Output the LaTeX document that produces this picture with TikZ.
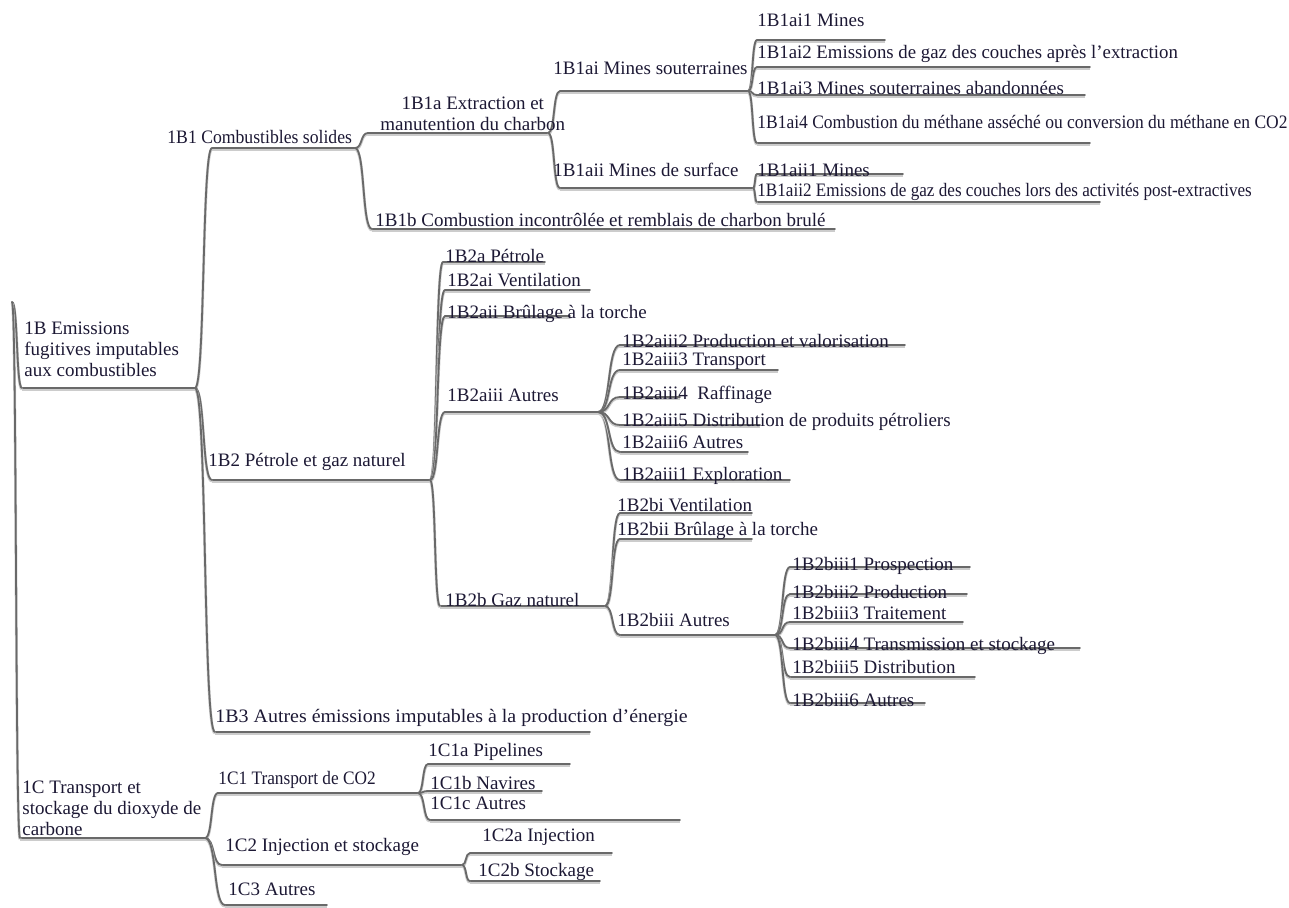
\documentclass[tikz,border=0pt]{standalone}
\usepackage{fontspec}
\setmainfont{Liberation Serif}
\usetikzlibrary{calc,backgrounds}
\definecolor{ink}{RGB}{28,24,52}
\definecolor{lgray}{RGB}{105,105,105}
\tikzset{
	txt/.style={anchor=west,inner sep=0pt,text=ink,font=\rmfamily\fontsize{9.5}{10.5}\selectfont},
	cond/.style={font=\rmfamily\fontsize{9.5}{10.5}\selectfont\addfontfeatures{FakeStretch=#1}},
	uline/.style={draw=lgray,line width=0.9pt,line cap=round,
		preaction={draw=black!20,line width=1.4pt,transform canvas={yshift=-0.6pt}}},
	branch/.style={uline,to path={.. controls ($(\tikztostart)!0.6!(\tikztostart -| \tikztotarget)$) and ($(\tikztotarget)!0.6!(\tikztotarget -| \tikztostart)$) .. (\tikztotarget)}}
}
\begin{document}
\begin{tikzpicture}[x=0.5pt,y=-0.5pt]
	\useasboundingbox (0,0) rectangle (1289,908);
	\coordinate (root-r) at (12,302);
	
	%%%% 1B
	\node[txt,align=left] (b) at (24,349) {1B Emissions\\fugitives imputables\\aux combustibles};
	\coordinate (b-l) at (22,388); \coordinate (b-r) at (195,388);
	
	%%%% 1B1
	\node[txt,cond=0.93] (b1) at (167,137) {1B1 Combustibles solides};
	\coordinate (b1-l) at (212,148); \coordinate (b1-r) at (355,148);
	\node[txt,align=center] (b1a) at (380,114) {1B1a Extraction et\\manutention du charbon};
	\coordinate (b1a-l) at (368,133); \coordinate (b1a-r) at (548,133);
	\node[txt] (b1b) at (375,220) {1B1b Combustion incontrôlée et remblais de charbon brulé};
	\coordinate (b1b-l) at (372,229); \coordinate (b1b-r) at (835,229);
	\node[txt] (b1ai) at (553,68) {1B1ai Mines souterraines};
	\coordinate (b1ai-l) at (560,91); \coordinate (b1ai-r) at (748,91);
	\node[txt] (b1aii) at (553,170) {1B1aii Mines de surface};
	\coordinate (b1aii-l) at (560,188); \coordinate (b1aii-r) at (753,188);
	\node[txt] (b1ai1) at (757,20) {1B1ai1 Mines};
	\coordinate (b1ai1-l) at (757,40); \coordinate (b1ai1-r) at (885,40);
	\node[txt,cond=0.99] (b1ai2) at (757,54) {1B1ai2 Emissions de gaz des couches après l'extraction};
	\coordinate (b1ai2-l) at (757,67); \coordinate (b1ai2-r) at (1090,67);
	\node[txt] (b1ai3) at (757,88) {1B1ai3 Mines souterraines abandonnées};
	\coordinate (b1ai3-l) at (757,95); \coordinate (b1ai3-r) at (1085,95);
	\node[txt,cond=0.92] (b1ai4) at (757,122) {1B1ai4 Combustion du méthane asséché ou conversion du méthane en CO2};
	\coordinate (b1ai4-l) at (757,143); \coordinate (b1ai4-r) at (1090,143);
	\node[txt] (b1aii1) at (757,170) {1B1aii1 Mines};
	\coordinate (b1aii1-l) at (757,174); \coordinate (b1aii1-r) at (903,174);
	\node[txt,cond=0.9] (b1aii2) at (757,192) {1B1aii2 Emissions de gaz des couches lors des activités post-extractives};
	\coordinate (b1aii2-l) at (757,202); \coordinate (b1aii2-r) at (1100,202);
	
	%%%% 1B2
	\node[txt] (b2) at (208,462) {1B2 Pétrole et gaz naturel};
	\coordinate (b2-l) at (212,480); \coordinate (b2-r) at (430,480);
	\node[txt] (b2a) at (445,256) {1B2a Pétrole};
	\coordinate (b2a-l) at (443,262); \coordinate (b2a-r) at (545,262);
	\node[txt] (b2ai) at (447,280) {1B2ai Ventilation};
	\coordinate (b2ai-l) at (445,290); \coordinate (b2ai-r) at (590,290);
	\node[txt] (b2aii) at (447,314) {1B2aii Brûlage à la torche};
	\coordinate (b2aii-l) at (445,316); \coordinate (b2aii-r) at (570,316);
	\node[txt] (b2aiii) at (447,395) {1B2aiii Autres};
	\coordinate (b2aiii-l) at (445,412); \coordinate (b2aiii-r) at (598,412);
	\node[txt] (b2aiii2) at (622,341) {1B2aiii2 Production et valorisation};
	\coordinate (b2aiii2-l) at (620,345); \coordinate (b2aiii2-r) at (905,345);
	\node[txt] (b2aiii3) at (622,361) {1B2aiii3 Transport};
	\coordinate (b2aiii3-l) at (620,370); \coordinate (b2aiii3-r) at (778,370);
	\node[txt] (b2aiii4) at (622,395) {1B2aiii4\ \ Raffinage};
	\coordinate (b2aiii4-l) at (620,397); \coordinate (b2aiii4-r) at (680,397);
	\node[txt] (b2aiii5) at (622,422) {1B2aiii5 Distribution de produits pétroliers};
	\coordinate (b2aiii5-l) at (620,425); \coordinate (b2aiii5-r) at (760,425);
	\node[txt] (b2aiii6) at (622,442) {1B2aiii6 Autres};
	\coordinate (b2aiii6-l) at (620,452); \coordinate (b2aiii6-r) at (748,452);
	\node[txt] (b2aiii1) at (622,476) {1B2aiii1 Exploration};
	\coordinate (b2aiii1-l) at (620,480); \coordinate (b2aiii1-r) at (790,480);
	\node[txt] (b2b) at (445,600) {1B2b Gaz naturel};
	\coordinate (b2b-l) at (440,606); \coordinate (b2b-r) at (605,606);
	\node[txt] (b2bi) at (617,505) {1B2bi Ventilation};
	\coordinate (b2bi-l) at (620,513); \coordinate (b2bi-r) at (752,513);
	\node[txt] (b2bii) at (617,531) {1B2bii Brûlage à la torche};
	\coordinate (b2bii-l) at (620,539); \coordinate (b2bii-r) at (752,539);
	\node[txt] (b2biii) at (617,620) {1B2biii Autres};
	\coordinate (b2biii-l) at (620,635); \coordinate (b2biii-r) at (775,635);
	\node[txt] (b2biii1) at (792,566) {1B2biii1 Prospection};
	\coordinate (b2biii1-l) at (790,567); \coordinate (b2biii1-r) at (970,567);
	\node[txt] (b2biii2) at (792,592) {1B2biii2 Production};
	\coordinate (b2biii2-l) at (790,594); \coordinate (b2biii2-r) at (967,594);
	\node[txt] (b2biii3) at (792,613) {1B2biii3 Traitement};
	\coordinate (b2biii3-l) at (790,622); \coordinate (b2biii3-r) at (963,622);
	\node[txt] (b2biii4) at (792,646) {1B2biii4 Transmission et stockage};
	\coordinate (b2biii4-l) at (790,648); \coordinate (b2biii4-r) at (1080,648);
	\node[txt] (b2biii5) at (792,667) {1B2biii5 Distribution};
	\coordinate (b2biii5-l) at (790,677); \coordinate (b2biii5-r) at (975,677);
	\node[txt] (b2biii6) at (792,700) {1B2biii6 Autres};
	\coordinate (b2biii6-l) at (790,703); \coordinate (b2biii6-r) at (925,703);
	
	%%%% 1B3
	\node[txt,cond=1.05] (b3) at (215,718) {1B3 Autres émissions imputables à la production d’énergie};
	\coordinate (b3-l) at (215,732); \coordinate (b3-r) at (590,732);
	
	%%%% 1C
	\node[txt,align=left] (c) at (22,808) {1C Transport et\\stockage du dioxyde de\\carbone};
	\coordinate (c-l) at (20,838); \coordinate (c-r) at (205,838);
	\node[txt,cond=0.91] (c1) at (218,780) {1C1 Transport de CO2};
	\coordinate (c1-l) at (218,793); \coordinate (c1-r) at (418,793);
	\node[txt] (c2) at (225,847) {1C2 Injection et stockage};
	\coordinate (c2-l) at (222,865); \coordinate (c2-r) at (462,865);
	\node[txt] (c3) at (228,889) {1C3 Autres};
	\coordinate (c3-l) at (225,905); \coordinate (c3-r) at (327,905);
	\node[txt] (c1a) at (428,752) {1C1a Pipelines};
	\coordinate (c1a-l) at (428,764); \coordinate (c1a-r) at (570,764);
	\node[txt] (c1b) at (430,783) {1C1b Navires};
	\coordinate (c1b-l) at (428,791); \coordinate (c1b-r) at (542,791);
	\node[txt] (c1c) at (430,803) {1C1c Autres};
	\coordinate (c1c-l) at (430,820); \coordinate (c1c-r) at (680,820);
	\node[txt] (c2a) at (482,837) {1C2a Injection};
	\coordinate (c2a-l) at (470,853); \coordinate (c2a-r) at (612,853);
	\node[txt] (c2b) at (478,872) {1C2b Stockage};
	\coordinate (c2b-l) at (470,881); \coordinate (c2b-r) at (600,881);
	
	\begin{scope}[on background layer]
	% underlines
	\foreach \n in {b,b1,b1a,b1b,b1ai,b1aii,b1ai1,b1ai2,b1ai3,b1ai4,b1aii1,b1aii2,
		b2,b2a,b2ai,b2aii,b2aiii,b2aiii1,b2aiii2,b2aiii3,b2aiii4,b2aiii5,b2aiii6,
		b2b,b2bi,b2bii,b2biii,b2biii1,b2biii2,b2biii3,b2biii4,b2biii5,b2biii6,
		b3,c,c1,c2,c3,c1a,c1b,c1c,c2a,c2b}
		\draw[uline] (\n-l) -- (\n-r);
	
	% branches
	\foreach \p/\c in {root/b,root/c,b/b1,b/b2,b/b3,b1/b1a,b1/b1b,b1a/b1ai,b1a/b1aii,
		b1ai/b1ai1,b1ai/b1ai2,b1ai/b1ai3,b1ai/b1ai4,b1aii/b1aii1,b1aii/b1aii2,
		b2/b2a,b2/b2ai,b2/b2aii,b2/b2aiii,b2/b2b,
		b2aiii/b2aiii1,b2aiii/b2aiii2,b2aiii/b2aiii3,b2aiii/b2aiii4,b2aiii/b2aiii5,b2aiii/b2aiii6,
		b2b/b2bi,b2b/b2bii,b2b/b2biii,
		b2biii/b2biii1,b2biii/b2biii2,b2biii/b2biii3,b2biii/b2biii4,b2biii/b2biii5,b2biii/b2biii6,
		c/c1,c/c2,c/c3,c1/c1a,c1/c1b,c1/c1c,c2/c2a,c2/c2b}
		\draw[branch] (\p-r) to (\c-l);
	\end{scope}
\end{tikzpicture}
\end{document}
